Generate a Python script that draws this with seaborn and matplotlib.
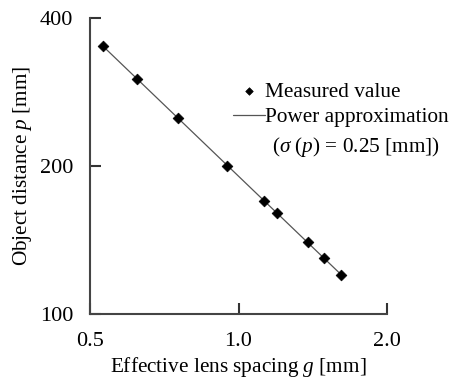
import numpy as np
import pandas as pd
import matplotlib
matplotlib.use("Agg")
import matplotlib.pyplot as plt
import matplotlib.ticker as mticker
import seaborn as sns

# Data
spacing_g = [0.532, 0.622, 0.755, 0.946, 1.127, 1.198, 1.385, 1.490, 1.611]
distance_p = [350, 300, 250, 200, 170, 160, 140, 130, 120]
x_ticks = [0.5, 1.0, 2.0]
x_tick_labels = ["0.5", "1.0", "2.0"]
y_ticks = [100, 200, 400]
y_tick_labels = ["100", "200", "400"]

sns.set_theme(style="white")
plt.rcParams["font.family"] = ["Liberation Serif", "DejaVu Serif"]
plt.rcParams["mathtext.fontset"] = "custom"
plt.rcParams["mathtext.rm"] = "Liberation Serif"
plt.rcParams["mathtext.it"] = "Liberation Serif:italic"
plt.rcParams["text.color"] = "black"
plt.rcParams["axes.labelcolor"] = "black"

FS = 15.3

df = pd.DataFrame({"g": spacing_g, "p": distance_p})
# power approximation p = a * g^b fitted to measured values
b, loga = np.polyfit(np.log(df["g"]), np.log(df["p"]), 1)
fit = pd.DataFrame({"g": [min(spacing_g), max(spacing_g)]})
fit["p"] = np.exp(loga) * fit["g"] ** b

fig = plt.figure(figsize=(4.49, 3.79), dpi=100)
ax = fig.add_axes([0.2004, 0.1715, 0.862 - 0.2004, 0.9538 - 0.1715])

sns.lineplot(data=fit, x="g", y="p", ax=ax, color="#555555", linewidth=0.9,
             label="Power approximation")
sns.scatterplot(data=df, x="g", y="p", ax=ax, marker="D", s=30, color="black",
                edgecolor="black", linewidth=0.5, label="Measured value", zorder=3)
handles, labels = ax.get_legend_handles_labels()
if ax.get_legend() is not None:
    ax.get_legend().remove()

ax.set_xscale("log")
ax.set_yscale("log")
ax.set_xlim(0.5, 2.0)
ax.set_ylim(100, 400)
ax.xaxis.set_major_locator(mticker.FixedLocator(x_ticks))
ax.xaxis.set_major_formatter(mticker.FixedFormatter(x_tick_labels))
ax.yaxis.set_major_locator(mticker.FixedLocator(y_ticks))
ax.yaxis.set_major_formatter(mticker.FixedFormatter(y_tick_labels))
ax.xaxis.set_minor_locator(mticker.NullLocator())
ax.yaxis.set_minor_locator(mticker.NullLocator())

for s in ["top", "right"]:
    ax.spines[s].set_visible(False)
for s in ["left", "bottom"]:
    ax.spines[s].set_color("#444444")
    ax.spines[s].set_linewidth(1.5)

ax.tick_params(axis="both", which="major", direction="in", length=8, width=1.5,
               color="#333333", labelsize=16, labelcolor="black",
               bottom=True, left=True)
ax.tick_params(axis="x", pad=13)
ax.tick_params(axis="y", pad=12)

ax.set_xlabel("Effective lens spacing $g$ [mm]", fontsize=FS, labelpad=2.5)
ax.set_ylabel("Object distance $p$ [mm]", fontsize=FS, labelpad=4)

order = [labels.index("Measured value"), labels.index("Power approximation")]
leg = fig.legend([handles[i] for i in order], [labels[i] for i in order],
                 loc="center left", bbox_to_anchor=(233 / 449, (379 - 104.5) / 379),
                 frameon=False, fontsize=FS, handlelength=1.5, handletextpad=0.0,
                 labelspacing=0.25, borderpad=0, borderaxespad=0, markerscale=0.7)
fig.text(272 / 449, (379 - 147) / 379, "($\\sigma$ ($p$) = 0.25 [mm])",
         fontsize=FS, ha="left", va="center")

fig.savefig("out.png", dpi=100)
